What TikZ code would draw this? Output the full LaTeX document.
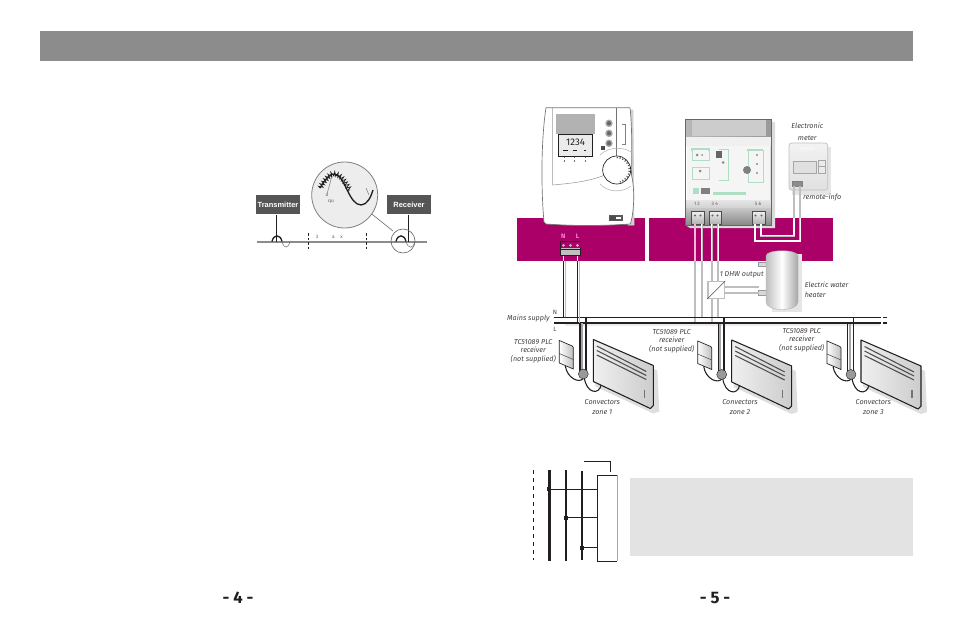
\documentclass[tikz,border=0pt]{standalone}
\usepackage{fontspec}
\setmainfont{Fira Sans}
\newfontfamily\arialfont{Liberation Sans}
\usetikzlibrary{decorations.pathmorphing}
\definecolor{barmagenta}{RGB}{171,0,104}
\definecolor{headgray}{RGB}{140,140,140}
\definecolor{boxgray}{RGB}{85,85,85}
\definecolor{notegray}{RGB}{227,227,227}
\definecolor{wiregray}{RGB}{190,190,190}
\definecolor{ledgreen}{RGB}{176,222,196}
\definecolor{inkdark}{RGB}{35,31,32}
\tikzset{every picture/.style={line width=0.75pt}}
\tikzset{
  caption/.style={inner sep=0.75pt,align=center,font=\fontsize{5.4}{6.4}\selectfont\itshape,text=inkdark!85},
  tagbox/.style={fill=boxgray,text=white,inner sep=0pt,minimum width=33pt,minimum height=14.5pt,font=\arialfont\bfseries\fontsize{5.6}{6}\selectfont},
  tiny/.style={inner sep=0pt,font=\fontsize{3.6}{4}\selectfont,text=black!65},
  wirewhite/.style={draw=white,line width=1pt},
  wirepale/.style={draw=wiregray,line width=1.4pt},
  mains/.style={draw=inkdark,line width=0.9pt},
  convector/.pic={
    %Shadow
    \fill [black!13] (4,5) -- (64,31) -- (66,72) -- (60,74) -- (2,47) -- cycle;
    %Receiver
    \draw [left color=white,right color=black!25,draw=inkdark,line width=0.5pt] (-34,1) -- (-21,6.5) -- (-20,8) -- (-20,29.5) -- (-34,23.5) -- cycle;
    \draw [black!70,line width=0.4pt] (-34,14) -- (-20,20);
    %Cables
    \draw [inkdark,line width=0.8pt] (-28,26.5) .. controls (-26,39) and (-14,44) .. (-10,39);
    \draw [inkdark,line width=0.8pt] (-9,38) .. controls (-7,54) and (6,56) .. (8,45);
    \draw [black!35,line width=1.5pt] (-11.5,-16.5) -- (-11.5,32);
    \draw [inkdark,line width=0.9pt] (-13.3,-16.5) -- (-13.3,32);
    \draw [inkdark,line width=1.3pt] (-7.4,-22.5) -- (-7.4,32);
    \draw [inkdark,fill=black!40,line width=0.3pt] (-10,34.5) circle (5);
    %Panel
    \draw [left color=black!6,right color=black!20,draw=inkdark,line width=0.8pt,line join=round] (0,0) -- (60,26) -- (60,66) -- (57,69) -- (0,42) -- cycle;
    \draw [inkdark!80,line width=0.8pt] (3.5,6.5) -- (53,32);
    \draw [inkdark!80,line width=0.8pt] (3.5,11) -- (53,36);
    \draw [inkdark!80,line width=0.8pt] (3.5,15.5) -- (53,40);
    \draw [black!55,line width=0.8pt] (51,50) -- (51,58);
  }
}

\begin{document}
\begin{tikzpicture}[x=0.75pt,y=0.75pt,yscale=-1,xscale=1]
\useasboundingbox (0,0) rectangle (954,628);

%Header bar
\fill [headgray] (40,31) rectangle (913,61);

% ---- left page ----
%Wave circle
\draw [black!55,line width=0.5pt] (368,211) -- (393,231);
\draw [fill=black!7,draw=black!50,line width=0.6pt] (344.7,195) circle (33);
\draw [black!50,line width=0.4pt] (327,194) -- (332,176);
\draw [inkdark,line width=0.5pt,decoration={zigzag,segment length=2.2pt,amplitude=1.7pt},decorate] (320,188) .. controls (326,178) and (331,173) .. (335,174) .. controls (341,175) and (345,182) .. (350,190);
\draw [inkdark,line width=1pt] (320,188) .. controls (326,178) and (331,173) .. (335,174) .. controls (345,176) and (349,205) .. (361,205) .. controls (367,205) and (371,197) .. (373,190);
\draw [black!50,line width=0.4pt] (366,188) -- (369,195);
% Text Node
\node [tiny] (quote) at (331,202) {qu};
\node [tiny] (quotea) at (327,195) {a};

%Line
\draw [black!45,line width=1.2pt] (257,241.7) -- (427,241.7);
\draw [inkdark,dash pattern=on 2pt off 1.4pt,line width=0.6pt] (308.3,233) -- (308.3,250);
\draw [inkdark,dash pattern=on 2pt off 1.4pt,line width=0.6pt] (366.3,233) -- (366.3,250);
% Text Node
\node [tiny] (bandthree) at (317,237) {3};
\node [tiny] (banda) at (333.5,237) {a};
\node [tiny] (bandx) at (341.5,237) {x};

%Tags
\node [tagbox] (transmitter) at (278,204.5) {Transmitter};
\node [tagbox] (receiver) at (409,204.5) {Receiver};
\coordinate (txfoot) at (276,241.5);
\coordinate (rxfoot) at (408,241.5);
\draw [inkdark,line width=0.7pt] (transmitter.south -| txfoot) -- (txfoot);
\draw [inkdark,line width=0.7pt] (receiver.south -| rxfoot) -- (rxfoot);
%Waves on the line
\draw [inkdark,line width=1pt] (272,241.5) .. controls (273.5,234) and (280.5,234) .. (282,241.5);
\draw [black!55,line width=0.4pt] (282,241.5) .. controls (284,249) and (288,249) .. (290,241.5);
\draw [inkdark,line width=1pt] (396,241.5) .. controls (397.5,234) and (404.5,234) .. (406,241.5);
\draw [black!55,line width=0.4pt] (406,241.5) .. controls (408,249) and (413,249) .. (415,241.5);
\draw [black!60,line width=0.5pt] (403,241) circle (12);

% ---- right page ----
%Purple bars
\fill [barmagenta] (517,217.7) rectangle (645,260.7);
\fill [barmagenta] (649,217.7) rectangle (833,260.7);

%Shape: Thermostat
\draw [fill=black!18,draw=black!18,line width=0.5pt] (633,110) -- (634,225) -- (628,225) -- (628,110) -- cycle;
\draw [fill=white,draw=black!55,line width=0.5pt,line join=round] (546,107.7) -- (630,107.7) .. controls (632,125) and (632,150) .. (631.5,175) .. controls (635,190) and (634,210) .. (631,222) -- (630,224) .. controls (600,226) and (575,226) .. (546,224) -- (544,222) .. controls (541,190) and (541,140) .. (546,107.7) -- cycle;
\draw [black!40,line width=0.4pt] (552.7,108) -- (552.7,185) .. controls (575,183) and (590,181) .. (605,175);
\fill [black!30] (555.7,114) rectangle (595,134);
\draw [fill=black!8,draw=inkdark,line width=0.7pt] (558,134) rectangle (592.7,156);
% Text Node
\node [inner sep=0pt,font=\fontsize{7.2}{8}\selectfont,text=inkdark] (clock) at (575.5,142.5) {1234};
\draw [inkdark,line width=0.6pt] (563,150.5) -- (568,150.5);
\draw [inkdark,line width=0.6pt] (573,150.5) -- (577,150.5);
\draw [inkdark,line width=0.6pt] (584,150.5) -- (586,150.5);
\draw [black!55,line width=1pt] (616.7,108) -- (616.7,157);
\draw [fill=black!60,draw=black!35,line width=1pt] (609,123.3) circle (3);
\draw [fill=black!60,draw=black!35,line width=1pt] (609,133.3) circle (3);
\draw [fill=black!60,draw=black!35,line width=1pt] (609,143.3) circle (3);
\fill [black!70] (601,146) rectangle (605,150);
\draw [black!50,line width=0.4pt] (622,124) -- (625,124) -- (625,144) -- (622,144);
\draw [black!30,line width=0.4pt] (600,155) .. controls (605,150) and (612,148) .. (618,148.3) .. controls (624,148.5) and (628,150) .. (631,152);
\draw [black!30,line width=0.4pt] (631,186) .. controls (622,193) and (608,192.5) .. (600,184);
\draw [fill=white,draw=inkdark,line width=0.5pt] (616.7,170) circle (14);
\draw [black!65,line width=1.2pt,dash pattern=on 0.8pt off 1.4pt] (616.7,157.5) .. controls (625,158) and (629.5,164) .. (629.5,170) .. controls (629.5,175) and (626,180) .. (620,182);
\draw [black!65,line width=0.8pt] (610,220) -- (622,220) -- (622,216) -- (610,216) -- cycle;
\fill [black!70] (610,216) rectangle (616,220);
\draw [black!55,line width=0.5pt,dash pattern=on 1pt off 1.5pt] (564,157) -- (564,162);
\draw [black!55,line width=0.5pt,dash pattern=on 1pt off 1.5pt] (574,157) -- (574,162);
\draw [black!55,line width=0.5pt,dash pattern=on 1pt off 1.5pt] (585,157) -- (585,162);

%Terminal N L
\node [draw=inkdark,line width=0.7pt,fill=black!25,minimum width=15.5pt,minimum height=11pt,inner sep=0pt] (termNL) at (570.5,248.3) {};
\fill [barmagenta] (560.5,241.5) rectangle (580.5,248);
\draw [inkdark,line width=0.7pt] (560,241) -- (581,241);
\draw [inkdark,line width=0.7pt] (560,249.3) -- (581,249.3);
\fill [black!25] (563.5,245.3) circle (1.5) (570.5,245.3) circle (1.5) (577.5,245.3) circle (1.5);
% Text Node
\node [inner sep=0pt,font=\bfseries\fontsize{4.8}{5}\selectfont,text=magenta!45] (termN) at (563.3,236.7) {N};
\node [inner sep=0pt,font=\bfseries\fontsize{4.8}{5}\selectfont,text=magenta!45] (termL) at (577.5,236.7) {L};

%Shape: DIN module
\fill [black!14] (771.7,122) -- (775,122) -- (775,228) -- (690,228) -- (685,225) -- cycle;
\shade [left color=black!28,right color=black!40] (685,119) rectangle (771.7,137);
\fill [black!20] (692,120) rectangle (766,135.5);
\fill [black!6] (685,137) rectangle (771.7,146);
\fill [black!4] (687,146) rectangle (770,200);
\shade [top color=black!10,bottom color=black!18] (685,200) rectangle (771.7,208);
\shade [top color=black!22,bottom color=black!48] (685,208) rectangle (771.7,225.7);
\draw [black!60,line width=0.5pt] (685,119) rectangle (771.7,225.7);
%Front panel
\draw [ledgreen,line width=1pt] (692,151) -- (692,149) -- (709,149) -- (709,151);
\draw [ledgreen,line width=0.5pt] (692,151) -- (692,160) -- (709,160) -- (709,151);
\draw [ledgreen,line width=0.5pt] (692,167) -- (692,179) -- (709,179) -- (709,167) -- cycle;
\draw [ledgreen,line width=0.5pt] (719,149) -- (728,149) -- (728,180) -- (719,180);
\draw [ledgreen,line width=1.2pt] (747,150) -- (763,150);
\draw [ledgreen,line width=0.5pt] (748,150) -- (748,182) -- (763,182) -- (763,150);
\fill [black!45] (697,155) circle (1.5) (702,155) circle (1) (700,171) circle (1.5) (723,162.5) circle (1.5) (757,155) circle (1.2) (757,164) circle (1.2) (757,173) circle (1.2);
\fill [black!60] (716,151) rectangle (722,158);
\fill [black!50] (747,170) circle (4);
\fill [ledgreen] (693,188) rectangle (699,194);
\fill [ledgreen] (713,192) rectangle (746,195);
\fill [black!50] (701,188) rectangle (710,194);
% Text Node
\node [tiny] (term12) at (697,204) {1 2};
\node [tiny] (term34) at (714.7,204) {3 4};
\node [tiny] (term56) at (758,204) {5 6};
%Module terminals
\draw [top color=black!5,bottom color=black!30,draw=black!70,line width=0.5pt] (691.7,211) rectangle (704.3,224);
\draw [top color=black!5,bottom color=black!30,draw=black!70,line width=0.5pt] (709.3,211) rectangle (721,224);
\draw [top color=black!5,bottom color=black!30,draw=black!70,line width=0.5pt] (752.3,211) rectangle (765,224);
\fill [black!60] (695,215.5) circle (1.2) (700.5,215.5) circle (1.2) (712.5,215.5) circle (1.2) (717.5,215.5) circle (1.2) (755.5,215.5) circle (1.2) (761.5,215.5) circle (1.2);

%Electric meter
\fill [black!10] (792,147) rectangle (831,195);
\shade [top color=black!5,bottom color=black!12,draw=black!25,line width=0.5pt,rounded corners=2pt] (789,143) rectangle (827.7,190);
\fill [black!4] (800,147) rectangle (815,150);
\draw [fill=black!12,draw=black!35,line width=0.4pt] (793,161) rectangle (816,173);
\draw [fill=black!8,draw=black!35,line width=0.4pt] (818,160) rectangle (825,173);
\draw [black!35,line width=0.4pt] (818,166) -- (825,166);
\draw [fill=black!45,draw=black!50,line width=0.3pt] (792.3,181) rectangle (801.7,186);

%Remote-info pair
\coordinate (remoteA) at (794,186);
\coordinate (remoteB) at (800.3,186);
\coordinate (termA) at (761,224);
\coordinate (termB) at (755,224);
\draw [wirepale] (remoteA) -- (794,235.7) -- (761,235.7) -- (termA);
\draw [wirepale] (remoteB) -- (800.3,241) -- (755,241) -- (termB);
\draw [wirewhite] (794,218) -- (794,235.7) -- (761,235.7) -- (termA);
\draw [wirewhite] (800.3,218) -- (800.3,241) -- (755,241) -- (termB);

%Shape: Water heater
\fill [black!10] (772,254) rectangle (802,312);
\draw [fill=black!15,draw=black!40,line width=0.4pt] (758,262) rectangle (767,266.5);
\draw [fill=black!15,draw=black!40,line width=0.4pt] (758,290) rectangle (767,295);
\shade [left color=black!25,right color=black!35,middle color=white,draw=black!30,line width=0.3pt] (766,256) .. controls (766,249) and (798,249) .. (798,256) -- (798,302) .. controls (798,312) and (766,312) .. (766,302) -- cycle;

%Module wires
\coordinate (outA) at (695,224);
\coordinate (outB) at (701.7,224);
\coordinate (outC) at (711.7,224);
\coordinate (outD) at (718.3,224);
\draw [wiregray,line width=1.5pt] (outA) -- (695,322);
\draw [wiregray,line width=1.2pt] (outB) -- (701.7,317);
\draw [wiregray,line width=1.2pt] (outC) -- (711.7,281.7);
\draw [wiregray,line width=1.5pt] (outD) -- (718.3,281.7);
\draw [wiregray,line width=1.2pt] (711.7,298.3) -- (711.7,322);
\draw [wiregray,line width=1.5pt] (718.3,298.3) -- (718.3,317);
\draw [magenta!30,line width=1pt] (outA) -- (695,260.7);
\draw [wirewhite] (outB) -- (701.7,260.7);
\draw [wirewhite] (outC) -- (711.7,260.7);
\draw [wirewhite] (outD) -- (718.3,260.7);
%Relay
\node [draw=wiregray,fill=white,line width=1pt,minimum width=12.5pt,minimum height=12.5pt,inner sep=0pt] (relay) at (716.2,290) {};
\draw [black!70,line width=0.4pt] (relay.south west) -- (relay.north east);
\draw [wiregray,line width=1.2pt] (relay.east |- 0,286.7) -- (759,286.7);
\draw [wiregray,line width=1.2pt] (relay.east |- 0,292.7) -- (759,292.7);

%Mains
\coordinate (nline) at (554,317.5);
\coordinate (lline) at (554,323);
\fill [black!8] (565,324) rectangle (880,326);
\draw [mains] (nline) -- (878,317.5);
\draw [mains] (lline) -- (878,323);
\draw [mains,dash pattern=on 2.5pt off 1.5pt] (878,317.5) -- (887,317.5);
\draw [mains,dash pattern=on 2.5pt off 1.5pt] (878,323) -- (887,323);
\draw [wiregray,line width=0.8pt] (565.5,261) -- (565.5,317);
\draw [wiregray,line width=0.8pt] (579.5,261) -- (579.5,323);
\draw [white,line width=1pt] (termNL.south -| termN) -- (563.3,260.7);
\draw [white,line width=1pt] (termNL.south -| termL) -- (577.5,260.7);
\draw [mains] (563.3,260.7) -- (nline -| termN);
\draw [mains] (577.5,260.7) -- (lline -| termL);

%Convectors
\path (593.3,339.5) pic [transform shape] {convector};
\path (731.7,340) pic [transform shape] {convector};
\path (861,340) pic [transform shape] {convector};

% Text Node
\node [caption,font=\fontsize{5.4}{8.7}\selectfont\itshape] (meter) at (807.3,131.5) {Electronic\\meter};
\node [caption,anchor=west] (remote) at (801.7,197.5) {remote-info};
\node [caption] (dhw) at (741.7,275) {1 DHW output};
\node [caption,anchor=west,align=left,font=\fontsize{5.4}{7.5}\selectfont\itshape] (heater) at (803.3,290) {Electric water\\heater};
\node [caption,anchor=east] (mainslabel) at (551,318) {Mains supply};
\node [caption,font=\fontsize{4.6}{5}\selectfont] (mainsN) at (555,312.3) {N};
\node [caption,font=\fontsize{4.6}{5}\selectfont] (mainsL) at (555,329.7) {L};
\node [caption] (plcone) at (533.3,351) {TC51089 PLC\\receiver\\(not supplied)};
\node [caption] (plctwo) at (671.7,341) {TC51089 PLC\\receiver\\(not supplied)};
\node [caption] (plcthree) at (801.7,340) {TC51089 PLC\\receiver\\(not supplied)};
\node [caption,font=\fontsize{5.4}{7.5}\selectfont\itshape] (zoneone) at (602.3,407.5) {Convectors\\zone 1};
\node [caption,font=\fontsize{5.4}{7.5}\selectfont\itshape] (zonetwo) at (740,407.5) {Convectors\\zone 2};
\node [caption,font=\fontsize{5.4}{7.5}\selectfont\itshape] (zonethree) at (873.3,407.5) {Convectors\\zone 3};

% ---- wiring scheme ----
\fill [notegray] (630,478) rectangle (913,556);
\draw [inkdark,dashed,line width=0.7pt] (533.3,470) -- (533.3,559.5);
\draw [inkdark,line width=2.2pt] (549.3,470) -- (549.3,560.7);
\draw [inkdark,line width=1.5pt] (566,470) -- (566,560.7);
\draw [inkdark,line width=1.5pt] (582,471) -- (582,560);
\draw [inkdark,line width=0.8pt] (584,461.3) -- (610.7,461.3) -- (610.7,472);
\draw [inkdark,line width=0.8pt] (617.3,475.3) -- (597.3,475.3) -- (597.3,561.3) -- (617.3,561.3);
\draw [black!35,line width=0.8pt] (617.3,475.3) -- (617.3,561.3);
\draw [inkdark,line width=0.8pt] (549.3,489.3) -- (597.3,489.3);
\draw [inkdark,line width=0.8pt] (566,517.7) -- (597.3,517.7);
\draw [inkdark,line width=0.8pt] (582,547.7) -- (597.3,547.7);
\fill [inkdark] (547.3,487.3) rectangle (551.3,491.3);
\fill [inkdark] (564,515.7) rectangle (568,519.7);
\fill [inkdark] (580,545.7) rectangle (584,549.7);

% Text Node
\node [inner sep=0pt,font=\bfseries\fontsize{12.5}{14}\selectfont,text=inkdark] (pagefour) at (238,598) {- 4 -};
\node [inner sep=0pt,font=\bfseries\fontsize{12.5}{14}\selectfont,text=inkdark] (pagefive) at (715,598) {- 5 -};
\end{tikzpicture}
\end{document}
